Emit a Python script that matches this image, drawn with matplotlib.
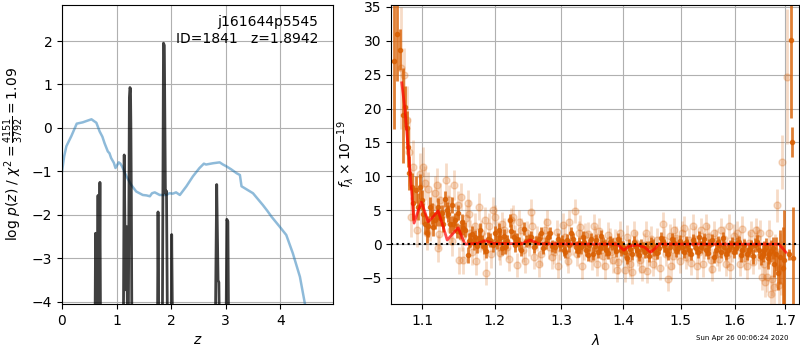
import matplotlib
matplotlib.use('Agg')
import matplotlib.pyplot as plt
import numpy as np
from matplotlib.ticker import NullLocator, FixedLocator, FixedFormatter

## REDSHIFT PDF
# prior (blue) and fitted log p(z) (black), values below -4 run off the axis
z_prior = [0.0, 0.04, 0.08, 0.17, 0.27, 0.38, 0.47, 0.54, 0.63, 0.69, 0.74, 0.78, 0.84, 0.87,
           0.90, 0.95, 0.98, 1.04, 1.07, 1.10, 1.18, 1.27, 1.36, 1.48, 1.55, 1.61, 1.65, 1.70,
           1.79, 1.91, 1.97, 2.03, 2.09, 2.16, 2.28, 2.40, 2.52, 2.60, 2.64, 2.77, 2.89, 2.95,
           3.01, 3.10, 3.20, 3.26, 3.29, 3.50, 3.68, 3.76, 3.84, 3.99, 4.11, 4.23, 4.36, 4.45,
           4.50]
logp_prior = [-1.00, -0.65, -0.42, -0.19, 0.10, 0.13, 0.17, 0.20, 0.12, -0.08, -0.20, -0.35,
              -0.54, -0.58, -0.69, -0.80, -0.92, -0.79, -0.82, -0.88, -1.11, -1.31, -1.46,
              -1.54, -1.55, -1.57, -1.50, -1.48, -1.54, -1.54, -1.50, -1.51, -1.48, -1.54,
              -1.34, -1.11, -0.92, -0.82, -0.84, -0.81, -0.79, -0.84, -0.88, -0.95, -1.04,
              -1.08, -1.34, -1.50, -1.77, -1.90, -2.04, -2.27, -2.46, -2.88, -3.42, -4.03,
              -4.5]

z_fit = [0.0, 0.600, 0.615, 0.625, 0.640, 0.660, 0.675, 0.695, 0.710,
         1.120, 1.140, 1.165, 1.185, 1.210, 1.235, 1.245, 1.255, 1.262, 1.270, 1.285,
         1.745, 1.760, 1.780, 1.835, 1.860, 1.875, 1.895, 1.915, 1.940,
         1.995, 2.010, 2.035, 2.800, 2.835, 2.860, 2.875, 2.895,
         3.000, 3.020, 3.040, 3.060, 4.97]
logp_fit = [-10, -6, -2.42, -2.45, -6, -1.55, -6, -1.25, -6,
            -6, -0.62, -3.72, -2.27, -6, 0.70, 0.93, 0.90, 0.10, -1.5, -6,
            -6, -1.93, -6, -6, 1.95, 1.90, -1.50, -1.45, -6,
            -6, -2.45, -6, -6, -1.30, -3.50, -3.55, -6,
            -6, -2.10, -2.15, -6, -10]

## SPECTRUM
# grism orient A (solid)
wave_a = [1.0636, 1.0674, 1.0718, 1.0745, 1.0777, 1.0800, 1.0820, 1.0833, 1.0865, 1.0885,
          1.0921, 1.0951, 1.0974, 1.0996, 1.1017, 1.1040, 1.1062, 1.1083, 1.1105, 1.1129,
          1.1150, 1.1173, 1.1195, 1.1217, 1.1240, 1.1262, 1.1285, 1.1308, 1.1330, 1.1352,
          1.1375, 1.1398, 1.1420, 1.1445, 1.1468, 1.1490, 1.1512, 1.1537, 1.1560, 1.1584,
          1.1616, 1.1635, 1.1654, 1.1680, 1.1700, 1.1724, 1.1750, 1.1770, 1.1794, 1.1820,
          1.1850, 1.1880, 1.1910, 1.1937, 1.1970, 1.2009, 1.2030, 1.2056, 1.2080, 1.2110,
          1.2130, 1.2154, 1.2180, 1.2217, 1.2240, 1.2276, 1.2300, 1.2325, 1.2350, 1.2385,
          1.2424, 1.2460, 1.2499, 1.2535, 1.2574, 1.2610, 1.2649, 1.2690, 1.2724, 1.2760,
          1.2800, 1.2826, 1.2860, 1.2904, 1.2950, 1.2985,
          1.3037, 1.3090, 1.3145, 1.3230, 1.3280, 1.3340, 1.3390, 1.3445, 1.3500, 1.3555,
          1.3610, 1.3665, 1.3720, 1.3775, 1.3860, 1.3915, 1.3970, 1.4035, 1.4093, 1.4153,
          1.4210, 1.4270, 1.4330, 1.4405, 1.4475, 1.4535, 1.4622, 1.4680, 1.4740, 1.4800,
          1.4885, 1.4945, 1.5030, 1.5090, 1.5150, 1.5215, 1.5275, 1.5340, 1.5400, 1.5460,
          1.5525, 1.5610, 1.5680, 1.5745, 1.5805, 1.5880, 1.5945, 1.6020, 1.6085, 1.6150,
          1.6235, 1.6315, 1.6395, 1.6480, 1.6547, 1.6614, 1.6680, 1.6750, 1.6780, 1.6814,
          1.6848, 1.6900, 1.6950, 1.6984, 1.7073, 1.7120, 1.7140, 1.7167,
          1.3010, 1.3063, 1.3118, 1.3188, 1.3255, 1.3310, 1.3365, 1.3418, 1.3472, 1.3528,
          1.3583, 1.3638, 1.3692, 1.3748, 1.3818, 1.3888, 1.3942, 1.4002, 1.4064, 1.4123,
          1.4182, 1.4240, 1.4300, 1.4368, 1.4440, 1.4505, 1.4578, 1.4651, 1.4710, 1.4770,
          1.4842, 1.4915, 1.4988, 1.5060, 1.5120, 1.5183, 1.5245, 1.5308, 1.5370, 1.5430,
          1.5493, 1.5568, 1.5645, 1.5712, 1.5775, 1.5842, 1.5912, 1.5982, 1.6052, 1.6118,
          1.6192, 1.6275, 1.6355, 1.6438, 1.6513, 1.6580, 1.6647, 1.6715]
flux_a = [27.0, 31.0, 28.7, 19.0, 20.3, 17.1, 14.4, 10.5, 8.5, 6.0,
          8.0, 5.5, 8.5, 6.5, 4.5, 3.0, 1.6, 2.6, 5.5, 4.5,
          2.5, 3.5, 4.0, 5.5, 3.8, 4.6, 3.0, 6.7, 5.0, 4.5,
          2.9, 5.8, 3.0, 3.5, 2.0, 4.6, 1.8, 3.3, 2.4, 2.1,
          -1.6, 0.5, 0.6, 1.5, 0.2, 1.1, -0.3, 0.9, 2.1, 0.4,
          -0.5, -1.0, 0.8, 0.6, -0.2, 1.6, 0.3, 2.1, 0.9, -0.6,
          1.2, -0.4, 0.4, 3.5, 1.9, 1.1, -0.2, 0.8, 0.1, -0.8,
          2.3, 0.5, 0.6, 1.0, -0.4, 0.3, 0.8, 1.6, -0.6, 0.2,
          1.0, 1.6, -0.3, -0.4, 0.7, -0.1,
          -0.9, 0.6, 1.6, -0.4, 0.1, 1.1, -0.9, -0.15, -1.4, 0.6,
          -0.6, 0.1, -0.9, 0.35, -0.4, 0.8, -0.9, -1.1, -0.15, -1.4,
          -0.4, -1.6, -0.6, -0.4, 0.1, -0.9, -0.6, 0.35, -0.9, -0.4,
          0.1, -0.6, -0.4, 0.35, -0.9, 0.6, -0.6, 1.1, 0.1, -0.9,
          -0.15, -1.9, 0.35, -1.1, -0.4, -0.9, 0.1, -0.6, 0.35, -0.9,
          -1.4, -0.4, -0.15, -0.9, -1.4, -0.4, -1.4, -0.6, -2.9, -1.4,
          -4.3, -1.9, -3.5, -2.4, -1.5, 30.1, 15.1, -2.0,
          0.4, -1.2, -0.2, 0.8, -1.0, -0.5, 0.3, -1.6, 0.7, -0.3,
          -1.1, 1.2, -0.2, -1.3, 0.0, -1.0, 0.2, -0.5, -2.0, -0.7,
          0.3, -0.9, -0.2, -1.2, -1.8, -0.2, -1.3, 0.9, -0.2, -1.5,
          0.8, -1.0, 0.4, -1.2, -0.1, -1.5, 0.2, -1.2, -0.4, 0.7,
          -1.3, 0.6, -0.8, -0.2, 0.9, -1.5, -0.3, -1.2, 0.2, -1.6,
          -0.2, -0.9, -1.8, 0.3, -1.9, -0.8, -2.1, -1.0]
err_a = [10.0, 7.0, 3.0, 7.0, 3.0, 2.5, 3.0, 2.5, 2.0, 2.5,
         2.0, 2.0, 1.8, 1.5, 1.5, 1.5, 1.5, 1.5, 1.5, 1.5,
         1.3, 1.3, 1.3, 1.3, 1.2, 1.2, 1.2, 1.2, 1.2, 1.2,
         1.2, 1.2, 1.1, 1.1, 1.1, 1.1, 1.1, 1.1, 1.1, 1.1,
         1.2, 1.1, 1.1, 1.1, 1.0, 1.0, 1.0, 1.0, 1.0, 1.0,
         1.0, 1.0, 1.0, 1.0, 1.0, 1.0, 1.0, 1.0, 1.0, 1.0,
         1.0, 1.0, 1.0, 1.0, 1.0, 1.0, 0.9, 0.9, 0.9, 0.9,
         0.9, 0.9, 0.9, 0.9, 0.9, 0.9, 0.9, 0.9, 0.9, 0.9,
         0.9, 0.9, 0.9, 0.9, 0.9, 0.9,
         0.9, 0.9, 0.9, 0.9, 0.9, 0.9, 0.9, 0.9, 0.9, 0.9,
         0.9, 0.9, 0.9, 0.9, 0.9, 0.9, 0.9, 0.9, 0.9, 0.9,
         0.9, 0.9, 0.9, 0.9, 0.9, 0.9, 0.9, 0.9, 0.9, 0.9,
         0.9, 0.9, 0.9, 0.9, 0.9, 0.9, 0.9, 0.9, 0.9, 0.9,
         0.9, 0.9, 0.9, 0.9, 0.9, 0.9, 0.9, 0.9, 0.9, 1.0,
         1.0, 1.0, 1.0, 1.1, 1.2, 1.3, 1.5, 1.6, 2.0, 2.5,
         2.5, 4.0, 6.0, 7.5, 0.8, 11.5, 2.2, 7.5,
         0.9, 0.9, 0.9, 0.9, 0.9, 0.9, 0.9, 0.9, 0.9, 0.9,
         0.9, 0.9, 0.9, 0.9, 0.9, 0.9, 0.9, 0.9, 0.9, 0.9,
         0.9, 0.9, 0.9, 0.9, 0.9, 0.9, 0.9, 0.9, 0.9, 0.9,
         0.9, 0.9, 0.9, 0.9, 0.9, 0.9, 0.9, 0.9, 0.9, 0.9,
         0.9, 0.9, 0.9, 0.9, 0.9, 0.9, 0.9, 0.9, 0.9, 1.0,
         1.0, 1.0, 1.1, 1.1, 1.2, 1.3, 1.5, 1.6]

# grism orient B (faint)
wave_b = [1.0720, 1.0760, 1.0804, 1.0830, 1.0860, 1.0883, 1.0935, 1.0970, 1.1014,
          1.1060, 1.1083, 1.1130, 1.1200, 1.1208, 1.1245, 1.1315, 1.1347, 1.1384, 1.1430,
          1.1454, 1.1500, 1.1523, 1.1560, 1.1593, 1.1616, 1.1653, 1.1685, 1.1718, 1.1778,
          1.1810, 1.1847, 1.1880, 1.1917, 1.1977,
          1.2035, 1.2084, 1.2134, 1.2183, 1.2233, 1.2272, 1.2332, 1.2381, 1.2421, 1.2480,
          1.2530, 1.2580, 1.2629, 1.2688, 1.2752, 1.2802, 1.2851, 1.2926, 1.2975,
          1.3054, 1.3092, 1.3124, 1.3216, 1.3270, 1.3324, 1.3378, 1.3449, 1.3514, 1.3568,
          1.3632, 1.3703, 1.3773, 1.3827, 1.3892, 1.3946,
          1.4030, 1.4088, 1.4147, 1.4188, 1.4247, 1.4324, 1.4382, 1.4441, 1.4518, 1.4588,
          1.4676, 1.4735, 1.4776, 1.4835, 1.4882, 1.4941,
          1.5031, 1.5092, 1.5153, 1.5215, 1.5294, 1.5368, 1.5429, 1.5490, 1.5552, 1.5613,
          1.5675, 1.5748, 1.5828, 1.5890, 1.5951,
          1.6046, 1.6112, 1.6178, 1.6243, 1.6322, 1.6408, 1.6474, 1.6540, 1.6605, 1.6671,
          1.6717, 1.6770, 1.6836, 1.6901, 1.6947, 1.7033,
          1.0990, 1.1040, 1.1105, 1.1165, 1.1230, 1.1280, 1.1365, 1.1408, 1.1478, 1.1540,
          1.1630, 1.1740, 1.1795, 1.1860, 1.1950, 1.2005, 1.2060, 1.2110, 1.2160, 1.2210,
          1.2300, 1.2355, 1.2450, 1.2505, 1.2555, 1.2655, 1.2720, 1.2780, 1.2880, 1.2950,
          1.3020, 1.3105, 1.3170, 1.3245, 1.3300, 1.3350, 1.3420, 1.3480, 1.3540, 1.3600,
          1.3660, 1.3740, 1.3800, 1.3860, 1.3920, 1.3985, 1.4060, 1.4118, 1.4220, 1.4290,
          1.4355, 1.4410, 1.4480, 1.4550, 1.4625, 1.4700, 1.4800, 1.4860, 1.4910, 1.4985,
          1.5060, 1.5120, 1.5185, 1.5255, 1.5330, 1.5400, 1.5460, 1.5520, 1.5580, 1.5645,
          1.5710, 1.5790, 1.5860, 1.5920, 1.5985, 1.6080, 1.6145, 1.6210, 1.6280, 1.6365,
          1.6440, 1.6505, 1.6575, 1.6640, 1.6745, 1.6800, 1.6870, 1.6925]
flux_b = [26.0, 25.0, 18.3, 13.6, 4.0, 11.4, 2.1, 10.4, 11.4,
          1.6, 8.2, 5.5, 8.7, -0.6, 6.5, 9.5, 5.0, 2.1, 8.7,
          4.0, -2.4, 7.0, -2.4, 3.8, 6.0, 1.6, -1.1, 2.6, 5.5,
          1.6, -0.4, -4.3, 2.6, 5.0,
          1.6, -1.3, 2.1, -0.4, 3.5, 4.0, -3.1, 2.1, -0.9, 1.6,
          4.8, -1.9, 0.8, -1.4, 2.1, -0.4, -1.9, 1.8, -0.6,
          1.1, -1.4, 3.3, 4.9, 1.6, -3.3, 1.3, -0.9, 2.6, -2.9,
          -0.4, -3.3, 0.6, -2.4, -3.8, 1.6,
          -3.8, -2.1, -4.1, 1.6, -1.4, -3.6, 1.6, -1.4, -2.9, 0.6,
          3.0, -1.4, -5.1, -3.3, 2.1, -0.6,
          1.6, -1.9, 0.6, 2.6, -3.3, 2.1, -0.4, 1.1, -2.4, 1.6,
          -1.4, 2.1, -2.9, 2.6, -0.9,
          1.6, -2.9, -0.9, -3.3, 1.6, 2.1, -1.9, -4.8, -5.6, 1.6,
          -7.3, -6.3, 5.7, -1.4, 12.1, 24.7,
          6.0, 9.0, 3.0, 7.5, 1.5, 4.5, 6.5, 0.5, 5.8, 1.0,
          4.5, -2.5, 0.8, 3.5, -1.5, 4.0, -0.5, 3.0, 0.5, -2.2,
          1.0, 3.2, -2.5, 0.0, 2.6, -3.0, 0.5, 3.2, -1.2, -3.2,
          2.8, -2.5, 0.2, -1.5, 2.5, -0.5, 1.5, -2.0, 0.8, 2.0,
          -1.8, 1.4, -1.2, 0.4, -2.6, -0.8, 1.0, -3.0, 0.2, -2.4,
          -0.2, -4.0, 0.8, -1.8, -3.5, 0.6, 1.2, -1.8, 0.9, -2.5,
          2.4, -0.8, -2.8, 0.8, -1.2, -3.0, 2.6, 0.0, -3.6, 0.4,
          -2.2, 0.8, -1.6, -3.4, 1.2, -0.4, 2.3, -2.0, 0.2, -2.6,
          0.9, 1.7, -3.0, -4.8, -5.2, -1.0, -6.0, -3.5]
err_b = [9.0, 4.0, 5.0, 5.0, 3.0, 4.0, 2.5, 3.0, 3.0,
         2.5, 2.5, 2.5, 2.5, 2.0, 2.5, 2.5, 2.2, 2.2, 2.2,
         2.0, 2.0, 2.0, 2.0, 2.0, 2.0, 2.0, 2.0, 2.0, 2.0,
         2.0, 2.0, 1.8, 2.0, 2.0,
         1.8, 1.8, 1.8, 1.8, 1.8, 1.8, 1.8, 1.8, 1.8, 1.8,
         1.8, 1.8, 1.8, 1.8, 1.8, 1.8, 1.8, 1.8, 1.8,
         1.8, 1.8, 1.8, 1.8, 1.8, 1.8, 1.8, 1.8, 1.8, 1.8,
         1.8, 1.8, 1.8, 1.8, 1.8, 1.8,
         1.8, 1.8, 1.8, 1.8, 1.8, 1.8, 1.8, 1.8, 1.8, 1.8,
         1.8, 1.8, 1.8, 1.8, 1.8, 1.8,
         1.8, 1.8, 1.8, 1.8, 1.8, 1.8, 1.8, 1.8, 1.8, 1.8,
         1.8, 1.8, 1.8, 1.8, 1.8,
         1.8, 1.8, 1.8, 1.8, 1.8, 1.8, 1.8, 2.0, 2.2, 2.0,
         2.5, 2.5, 2.5, 3.0, 4.0, 10.0,
         3.0, 2.5, 2.5, 2.5, 2.2, 2.2, 2.2, 2.2, 2.0, 2.0,
         2.0, 2.0, 2.0, 2.0, 2.0, 1.8, 1.8, 1.8, 1.8, 1.8,
         1.8, 1.8, 1.8, 1.8, 1.8, 1.8, 1.8, 1.8, 1.8, 1.8,
         1.8, 1.8, 1.8, 1.8, 1.8, 1.8, 1.8, 1.8, 1.8, 1.8,
         1.8, 1.8, 1.8, 1.8, 1.8, 1.8, 1.8, 1.8, 1.8, 1.8,
         1.8, 1.8, 1.8, 1.8, 1.8, 1.8, 1.8, 1.8, 1.8, 1.8,
         1.8, 1.8, 1.8, 1.8, 1.8, 1.8, 1.8, 1.8, 1.8, 1.8,
         1.8, 1.8, 1.8, 1.8, 1.8, 1.8, 1.8, 1.8, 1.8, 1.8,
         1.8, 1.8, 2.0, 2.2, 2.5, 2.5, 3.0, 4.0]

# best-fit model
model_wave = [1.0735, 1.0775, 1.0812, 1.0851, 1.0895, 1.0945, 1.0991, 1.1035, 1.1080, 1.1145,
              1.1213, 1.1270, 1.1336, 1.1410, 1.1487, 1.1540, 1.1580, 1.1750, 1.1865, 1.1980,
              1.2400, 1.2524, 1.2650, 1.3900, 1.4011, 1.4100, 1.4250, 1.4370, 1.4468, 1.4550,
              1.4608, 1.6874, 1.7017]
model_flux = [23.8, 20.0, 15.0, 9.5, 3.1, 4.8, 6.2, 4.8, 3.3, 4.0,
              4.9, 3.0, 0.6, 1.5, 2.4, 1.0, 0.0, 0.1, 0.5, 0.1,
              0.05, 0.6, 0.05, 0.0, -0.9, -0.3, -0.1, -0.5, -1.2, -0.6,
              0.0, 0.0, -1.2]

orange = '#d95f02'

fig = plt.figure(figsize=(8, 3.5), dpi=100)
ax1 = fig.add_axes([0.0775, 0.131, 0.339, 0.855])
ax2 = fig.add_axes([0.489, 0.131, 0.510, 0.855])

ax1.plot(z_prior, logp_prior, color='C0', alpha=0.5, lw=1.8)
ax1.plot(z_fit, logp_fit, color='k', alpha=0.75, lw=2)
ax1.set_xlim(0, 4.97)
ax1.set_ylim(-4.05, 2.83)
ax1.set_xticks([0, 1, 2, 3, 4])
ax1.set_yticks([-4, -3, -2, -1, 0, 1, 2])
ax1.grid()
ax1.set_xlabel(r'$z$')
ax1.set_ylabel(r'log $p(z)$ / $\chi^2=\frac{4151}{3792}=1.09$')
ax1.text(0.945, 0.965, 'j161644p5545\nID=1841   z=1.8942', transform=ax1.transAxes,
         ha='right', va='top', fontsize=10)

ax2.errorbar(wave_b, flux_b, yerr=err_b, color=orange, alpha=0.22, marker='o', ms=5,
             linestyle='none', elinewidth=2)
ax2.errorbar(wave_a, flux_a, yerr=err_a, color=orange, alpha=0.8, marker='o', ms=3,
             linestyle='none', elinewidth=2)
ax2.plot(model_wave, model_flux, color='r', alpha=0.7, lw=2, zorder=5)
ax2.axhline(0, color='k', linestyle=':', lw=1.5, zorder=6)
ax2.set_xscale('log')
ax2.set_xlim(1.06, 1.729)
ax2.set_ylim(-8.86, 35.3)
lam_ticks = [1.1, 1.2, 1.3, 1.4, 1.5, 1.6, 1.7]
ax2.xaxis.set_major_locator(FixedLocator(lam_ticks))
ax2.xaxis.set_major_formatter(FixedFormatter(['%.1f' % t for t in lam_ticks]))
ax2.xaxis.set_minor_locator(NullLocator())
ax2.set_yticks([-5, 0, 5, 10, 15, 20, 25, 30, 35])
ax2.grid()
ax2.set_xlabel(r'$\lambda$')
ax2.set_ylabel(r'$f_\lambda\times 10^{-19}$')

fig.text(0.985, 0.027, 'Sun Apr 26 00:06:24 2020', ha='right', va='bottom', fontsize=5)

fig.savefig('out.png', dpi=100)
